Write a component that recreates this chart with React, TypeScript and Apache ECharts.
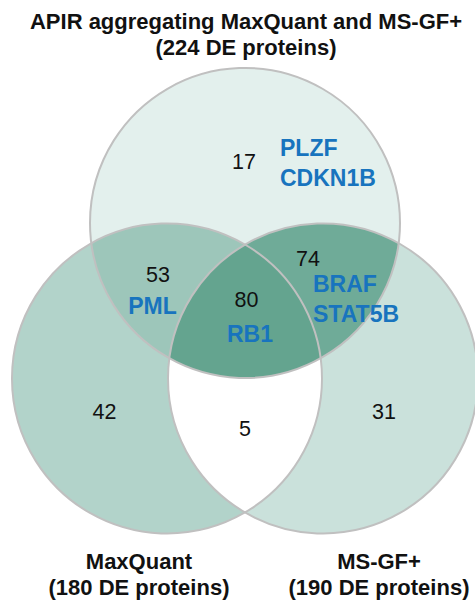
import React, { useEffect, useRef } from "react";
import * as echarts from "echarts";

// ---- data ----
const setKeys = ["T", "L", "R"];
const setNames = ["APIR aggregating MaxQuant and MS-GF+", "MaxQuant", "MS-GF+"];
const setTotals = [224, 180, 190];

// regions (drawing order)
const regionSets = [["L"], ["R"], ["T"], ["T", "L"], ["T", "R"], ["L", "R"], ["T", "L", "R"]];
const regionCounts = [42, 31, 17, 53, 74, 5, 80];
const regionGenes = [[], [], ["PLZF", "CDKN1B"], ["PML"], ["BRAF", "STAT5B"], [], ["RB1"]];

// ---- layout / style ----
const W = 475;
const H = 602;
const circles: Record<string, { x: number; y: number; r: number }> = {
  T: { x: 245, y: 223, r: 155 },
  L: { x: 167, y: 378.5, r: 155 },
  R: { x: 323, y: 378.5, r: 155 },
};
const regionColors = ["#b2d3ca", "#cae1db", "#e3f0ed", "#9dc6ba", "#6fab98", "#ffffff", "#64a48f"];
const countPos = [[104.5, 412], [384, 412], [244, 162], [158, 275], [308, 259], [245, 429], [246.5, 300]];
const genePos: [number, number, string][] = [
  [0, 0, "center"], [0, 0, "center"], [280, 148, "left"], [152.5, 306, "center"],
  [313, 283.5, "left"], [0, 0, "center"], [250, 334, "center"],
];
const setLabelPos = [[246, 21, 47], [139, 561, 587], [379, 561, 587]];
const FONT = "Liberation Sans, Arial, Helvetica, sans-serif";
const GENE_COLOR = "#1874be";

type P = [number, number];

function intersect(a: any, b: any): [P, P] {
  const dx = b.x - a.x, dy = b.y - a.y;
  const d = Math.hypot(dx, dy);
  const l = (a.r * a.r - b.r * b.r + d * d) / (2 * d);
  const h = Math.sqrt(Math.max(0, a.r * a.r - l * l));
  const mx = a.x + (dx * l) / d, my = a.y + (dy * l) / d;
  return [
    [mx + (h * dy) / d, my - (h * dx) / d],
    [mx - (h * dy) / d, my + (h * dx) / d],
  ];
}
function inner(a: any, b: any, c: any): P {
  const [p1, p2] = intersect(a, b);
  const d1 = Math.hypot(p1[0] - c.x, p1[1] - c.y);
  const d2 = Math.hypot(p2[0] - c.x, p2[1] - c.y);
  return d1 < d2 ? p1 : p2;
}
function shortArc(c: any, p0: P, p1: P, n = 48): P[] {
  const a0 = Math.atan2(p0[1] - c.y, p0[0] - c.x);
  const a1 = Math.atan2(p1[1] - c.y, p1[0] - c.x);
  let da = a1 - a0;
  while (da > Math.PI) da -= 2 * Math.PI;
  while (da <= -Math.PI) da += 2 * Math.PI;
  const pts: P[] = [];
  for (let i = 0; i <= n; i++) {
    const a = a0 + (da * i) / n;
    pts.push([c.x + c.r * Math.cos(a), c.y + c.r * Math.sin(a)]);
  }
  return pts;
}
function fullCircle(c: any, n = 160): P[] {
  const pts: P[] = [];
  for (let i = 0; i < n; i++) {
    const a = (2 * Math.PI * i) / n;
    pts.push([c.x + c.r * Math.cos(a), c.y + c.r * Math.sin(a)]);
  }
  return pts;
}
function regionPoints(keys: string[]): P[] {
  if (keys.length === 1) return fullCircle(circles[keys[0]]);
  if (keys.length === 2) {
    const A = circles[keys[0]], B = circles[keys[1]];
    const [p1, p2] = intersect(A, B);
    return shortArc(A, p1, p2).concat(shortArc(B, p2, p1));
  }
  const A = circles[keys[0]], B = circles[keys[1]], C = circles[keys[2]];
  const vAB = inner(A, B, C), vAC = inner(A, C, B), vBC = inner(B, C, A);
  return shortArc(A, vAB, vAC).concat(shortArc(C, vAC, vBC)).concat(shortArc(B, vBC, vAB));
}

function textEl(text: string, x: number, y: number, size: number, bold: boolean, color: string, align: string) {
  return {
    type: "text",
    style: {
      text,
      x,
      y,
      fill: color,
      fontSize: size,
      fontFamily: FONT,
      fontWeight: bold ? "bold" : "normal",
      align,
      verticalAlign: "middle",
      textAlign: align,
      textVerticalAlign: "middle",
    },
  };
}

export default function App() {
  const ref = useRef<HTMLDivElement>(null);
  useEffect(() => {
    document.body.style.margin = "0";
    document.body.style.overflow = "hidden";
    const chart = echarts.init(ref.current!, null, { renderer: "svg" });
    chart.setOption({
      animation: false,
      backgroundColor: "#ffffff",
      grid: { left: 0, right: 0, top: 0, bottom: 0 },
      xAxis: { type: "value", min: 0, max: W, show: false },
      yAxis: { type: "value", min: 0, max: H, inverse: true, show: false },
      series: [
        {
          type: "custom",
          name: "regions",
          coordinateSystem: "cartesian2d",
          clip: false,
          z: 1,
          data: regionCounts.map((c, i) => [0, 0, c]),
          renderItem: (params: any, api: any) => {
            const i = params.dataIndex;
            const pts = regionPoints(regionSets[i]).map((p) => api.coord(p));
            return { type: "polygon", shape: { points: pts }, style: { fill: regionColors[i], stroke: null } };
          },
        },
        {
          type: "custom",
          name: "outlines",
          coordinateSystem: "cartesian2d",
          clip: false,
          z: 2,
          data: setKeys.map((k, i) => [0, 0, setTotals[i]]),
          renderItem: (params: any, api: any) => {
            const c = circles[setKeys[params.dataIndex]];
            const ctr = api.coord([c.x, c.y]);
            const r = api.size([c.r, 0])[0];
            return {
              type: "circle",
              shape: { cx: ctr[0], cy: ctr[1], r },
              style: { fill: "none", stroke: "#c0c0c0", lineWidth: 2 },
            };
          },
        },
        {
          type: "custom",
          name: "regionLabels",
          coordinateSystem: "cartesian2d",
          clip: false,
          z: 3,
          data: regionCounts.map((c, i) => [0, 0, c]),
          renderItem: (params: any, api: any) => {
            const i = params.dataIndex;
            const cp = api.coord(countPos[i]);
            const children: any[] = [textEl(String(regionCounts[i]), cp[0], cp[1], 21.5, false, "#111111", "center")];
            const g = genePos[i];
            regionGenes[i].forEach((gene, j) => {
              const gp = api.coord([g[0], g[1] + j * 30]);
              children.push(textEl(gene, gp[0], gp[1], 23, true, GENE_COLOR, g[2]));
            });
            return { type: "group", children };
          },
        },
        {
          type: "custom",
          name: "setLabels",
          coordinateSystem: "cartesian2d",
          clip: false,
          z: 4,
          data: setNames.map((n, i) => [0, 0, setTotals[i]]),
          renderItem: (params: any, api: any) => {
            const i = params.dataIndex;
            const p = setLabelPos[i];
            const a = api.coord([p[0], p[1]]);
            const b = api.coord([p[0], p[2]]);
            return {
              type: "group",
              children: [
                textEl(setNames[i], a[0], a[1], 22, true, "#111111", "center"),
                textEl(`(${setTotals[i]} DE proteins)`, b[0], b[1], 22, true, "#111111", "center"),
              ],
            };
          },
        },
      ],
    });
    return () => chart.dispose();
  }, []);
  return <div ref={ref} style={{ width: W, height: H }} />;
}
